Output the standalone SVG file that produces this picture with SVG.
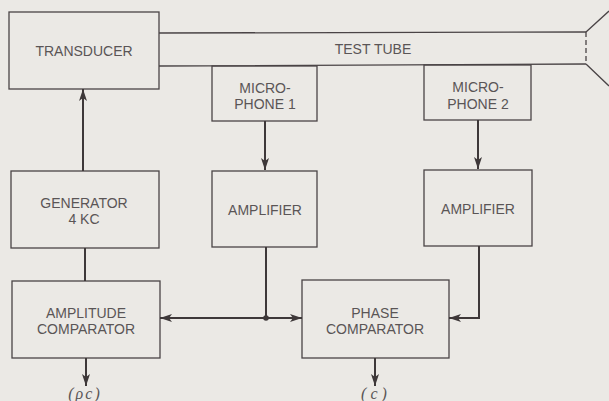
<svg xmlns="http://www.w3.org/2000/svg" width="609" height="401" viewBox="0 0 609 401">
<style>
.box{fill:none;stroke:#4a4446;stroke-width:1.3}
.ln{fill:none;stroke:#3e3839;stroke-width:2}
.t{font-family:"Liberation Sans",Arial,sans-serif;font-size:14px;fill:#5a5556;text-anchor:middle}
.it{font-family:"Liberation Serif","Times New Roman",serif;font-style:italic;font-size:16px;fill:#5a5556;text-anchor:middle}
</style>
<defs>
<marker id="ah" viewBox="0 0 12 8" refX="12" refY="4" markerWidth="12" markerHeight="8" markerUnits="userSpaceOnUse" orient="auto">
<path d="M0,0 L12,4 L0,8 L3,4 Z" fill="#3e3839"/>
</marker>
</defs>
<rect width="609" height="401" fill="#ebe9e5"/>

<g id="test-tube">
<path class="box" d="M159,33 L586,32 M159,66 L586,64"/>
<path class="box" d="M586,32 L586,64" stroke-dasharray="5,3"/>
<path class="box" d="M586,32 L609,11 M586,64 L609,86"/>
<text class="t" x="373" y="54">TEST TUBE</text>
</g>

<g id="transducer">
<rect class="box" x="9" y="12" width="150" height="77"/>
<text class="t" x="84" y="56">TRANSDUCER</text>
</g>

<g id="microphone1">
<rect class="box" x="212" y="66" width="105" height="55"/>
<text class="t" x="265" y="93">MICRO-</text>
<text class="t" x="265" y="109">PHONE 1</text>
</g>

<g id="microphone2">
<rect class="box" x="424" y="65" width="107" height="55"/>
<text class="t" x="478" y="92">MICRO-</text>
<text class="t" x="478" y="109">PHONE 2</text>
</g>

<g id="generator">
<rect class="box" x="11" y="171" width="148" height="77"/>
<text class="t" x="84" y="208">GENERATOR</text>
<text class="t" x="84" y="224">4 KC</text>
</g>

<g id="amplifier1">
<rect class="box" x="212" y="171" width="105" height="76"/>
<text class="t" x="265" y="215">AMPLIFIER</text>
</g>

<g id="amplifier2">
<rect class="box" x="424" y="170" width="108" height="76"/>
<text class="t" x="478" y="214">AMPLIFIER</text>
</g>

<g id="amplitude-comparator">
<rect class="box" x="12" y="281" width="148" height="77"/>
<text class="t" x="86" y="318">AMPLITUDE</text>
<text class="t" x="86" y="334">COMPARATOR</text>
</g>

<g id="phase-comparator">
<rect class="box" x="302" y="280" width="147" height="78"/>
<text class="t" x="375" y="318">PHASE</text>
<text class="t" x="375" y="334">COMPARATOR</text>
</g>

<g id="outputs">
<text class="it" x="85" y="399" letter-spacing="2">(ρc)</text>
<text class="it" x="376" y="399" letter-spacing="4">(c)</text>
</g>

<g id="connectors">
<path class="ln" d="M83,171 L83,89" marker-end="url(#ah)"/>
<path class="ln" d="M265,121 L265,170" marker-end="url(#ah)"/>
<path class="ln" d="M478,120 L478,169" marker-end="url(#ah)"/>
<path class="ln" d="M85,248 L85,281"/>
<path class="ln" d="M266,247 L266,318"/>
<path class="ln" d="M266,318 L160,318" marker-end="url(#ah)"/>
<path class="ln" d="M266,318 L302,318" marker-end="url(#ah)"/>
<circle cx="266" cy="318" r="2.8" fill="#3e3839"/>
<path class="ln" d="M479,246 L479,318 L449,318" marker-end="url(#ah)"/>
<path class="ln" d="M86,358 L86,386" marker-end="url(#ah)"/>
<path class="ln" d="M375,358 L375,386" marker-end="url(#ah)"/>
</g>
</svg>
